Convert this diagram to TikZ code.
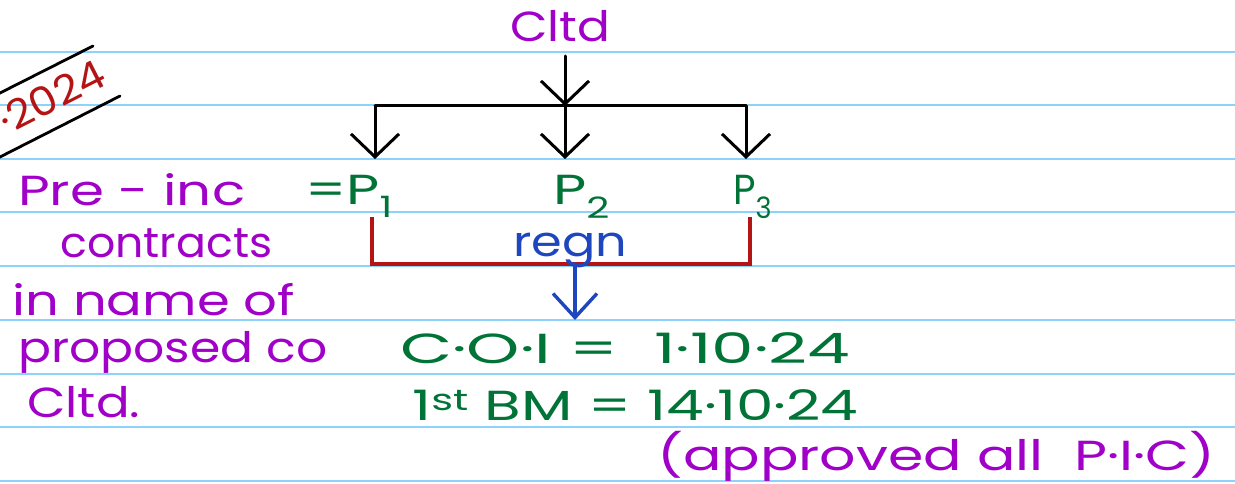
\documentclass[tikz,border=0pt]{standalone}
\usepackage{fontspec}
\setmainfont{Poppins}
\usepackage{graphicx}
\usetikzlibrary{arrows.meta}
\definecolor{rulec}{RGB}{140,210,250}
\definecolor{hpurple}{RGB}{160,0,200}
\definecolor{hgreen}{RGB}{0,115,55}
\definecolor{hblue}{RGB}{30,70,190}
\definecolor{hred}{RGB}{180,20,20}
\newcommand{\fitw}[2]{\resizebox{#1}{\height}{#2}}
\tikzset{
  rul/.style={draw=rulec, line width=1.6pt},
  hw/.style={inner sep=0pt, anchor=base west, font=\fontsize{42}{48}\selectfont},
  pur/.style={hw, text=hpurple},
  grn/.style={hw, text=hgreen},
  conn/.style={draw=black, line width=3pt, line cap=round, line join=round},
  vtip/.style={-{Straight Barb[length=23pt,width=48pt]}},
  redbr/.style={draw=hred, line width=3.6pt, line join=miter},
  bluearr/.style={draw=hblue, line width=3.4pt, line cap=round, -{Straight Barb[length=24pt,width=44pt]}}
}
\begin{document}
\begin{tikzpicture}[x=1pt,y=-1pt]
\useasboundingbox (0,0) rectangle (1235,484);
\fill[white] (0,0) rectangle (1235,484);
% ruled lines
\foreach \yy in {52,105,159,212,266,320,374,427,481}
  \draw[rul] (0,\yy) -- (1235,\yy);

% 2024 stamp
\draw[conn, line width=2.8pt] (-2,94) -- (93,46);
\draw[conn, line width=2.8pt] (-2,158) -- (120,96);
\node[hw, text=hred, rotate=27, font=\fontsize{40}{46}\selectfont] (yr) at (7,136) {\fitw{114pt}{·2024}};

% top
\node[pur] (cltd) at (510,42) {\fitw{100pt}{Cltd}};
\node[grn] (p1) at (305,205) {\fitw{88pt}{=P\textsubscript{1}}};
\node[grn] (p2) at (553,205) {\fitw{57pt}{P\textsubscript{2}}};
\node[grn] (p3) at (733,205) {\fitw{39pt}{P\textsubscript{3}}};

\coordinate (top) at (565,56);
\coordinate (jn) at (565,106);
\coordinate (jl) at (375,106);
\coordinate (jr) at (746,106);
\coordinate (d1) at (375,159);
\coordinate (d2) at (565,159);
\coordinate (d3) at (746,159);
\draw[conn, vtip] (top) -- (jn);
\draw[conn] (jl) -- (jr);
\draw[conn, vtip] (jl) -- (d1);
\draw[conn, vtip] (jn) -- (d2);
\draw[conn, vtip] (jr) -- (d3);

% left notes
\node[pur] (n1) at (18,205) {\fitw{227pt}{Pre - inc}};
\node[pur] (n2) at (60,257) {\fitw{212pt}{contracts}};
\node[pur] (n3) at (12,315) {\fitw{283pt}{in name of}};
\node[pur] (n4) at (18,362) {\fitw{309pt}{proposed co}};
\node[pur] (n5) at (27,417) {\fitw{113pt}{Cltd.}};

% registration bracket
\coordinate (bl) at (372,217);
\coordinate (blb) at (372,264);
\coordinate (brb) at (750,264);
\coordinate (br) at (750,217);
\draw[redbr] (bl) -- (blb) -- (brb) -- (br);
\node[hw, text=hblue] (regn) at (513,256) {\fitw{114pt}{regn}};
\coordinate (ba) at (575,264);
\coordinate (bt) at (575,320);
\draw[bluearr] (ba) -- (bt);

% dates
\node[grn] (coi) at (400,363) {\fitw{450pt}{C·O·I = \ 1·10·24}};
\node[grn] (bm) at (412,420) {\fitw{446pt}{1\textsuperscript{st} BM = 14·10·24}};
\node[pur] (appr) at (657,470) {\fitw{558pt}{(approved all \ P·I·C)}};
\end{tikzpicture}
\end{document}
